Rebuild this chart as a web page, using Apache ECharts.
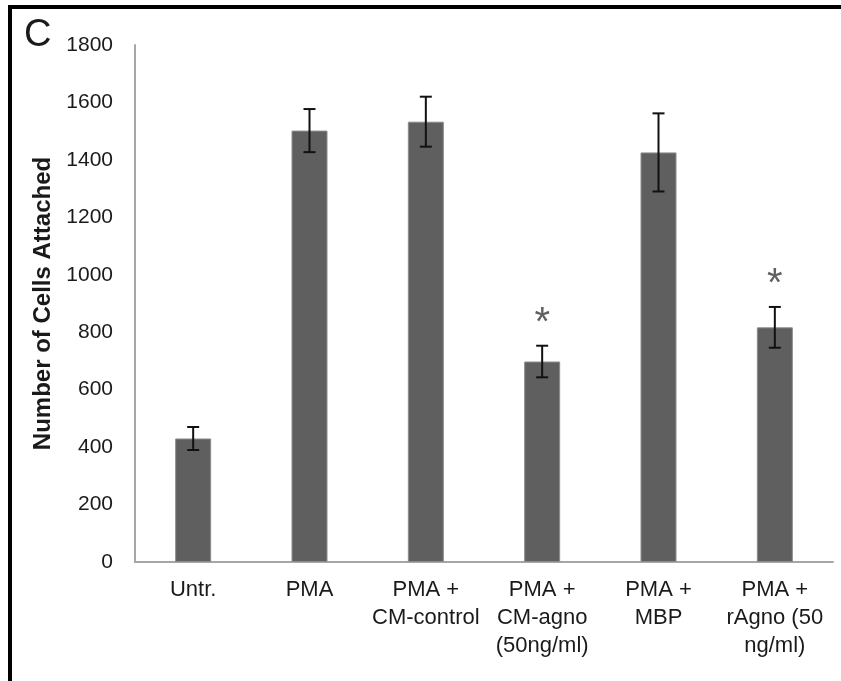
<!DOCTYPE html>
<html>
<head>
<meta charset="utf-8">
<script src="https://cdn.jsdelivr.net/npm/echarts@6/dist/echarts.min.js"></script>
<style>
  html, body { margin: 0; padding: 0; background: #fff; }
  #chart { width: 841px; height: 681px; }
</style>
</head>
<body>
<div id="chart"></div>
<script>
// Cell attachment per treatment: mean and error (±)
const categories = [
  'Untr.',
  'PMA',
  'PMA +\nCM-control',
  'PMA +\nCM-agno\n(50ng/ml)',
  'PMA +\nMBP',
  'PMA +\nrAgno (50\nng/ml)'
];
const means = [430, 1502, 1533, 698, 1426, 817];
const errors = [40, 75, 87, 55, 136, 71];
// significance marks drawn above the error bars
const significant = [false, false, false, true, false, true];
const yTicks = { min: 0, max: 1800, interval: 200 };

const sans = '"Liberation Sans", Arial, sans-serif';

const errData = means.map((m, i) => [i, m - errors[i], m + errors[i]]);
const starData = [];
means.forEach((m, i) => { if (significant[i]) starData.push([i, m + errors[i]]); });

const chart = echarts.init(document.getElementById('chart'), null, { renderer: 'canvas' });
chart.setOption({
  animation: false,
  backgroundColor: '#ffffff',
  grid: { left: 135, right: 8, top: 45, bottom: 119 },
  xAxis: {
    type: 'category',
    data: categories,
    axisLine: { show: true, lineStyle: { color: '#a6a6a6', width: 2 } },
    axisTick: { show: false },
    axisLabel: {
      interval: 0,
      margin: 14,
      color: '#1a1a1a',
      fontFamily: sans,
      fontSize: 22,
      lineHeight: 28
    }
  },
  yAxis: {
    type: 'value',
    min: yTicks.min,
    max: yTicks.max,
    interval: yTicks.interval,
    name: 'Number of Cells Attached',
    nameLocation: 'middle',
    nameGap: 78,
    nameTextStyle: { fontFamily: sans, fontWeight: 'bold', fontSize: 24, color: '#1a1a1a' },
    axisLine: { show: true, lineStyle: { color: '#a6a6a6', width: 2 } },
    axisTick: { show: false },
    splitLine: { show: false },
    axisLabel: {
      margin: 22,
      color: '#1a1a1a',
      fontFamily: sans,
      fontSize: 21,
      formatter: function (v) { return String(v); }
    }
  },
  series: [
    {
      type: 'bar',
      data: means,
      barWidth: 36,
      itemStyle: { color: '#5f5f5f', borderColor: '#8c8c8c', borderWidth: 1 }
    },
    {
      type: 'custom',
      data: errData,
      z: 5,
      renderItem: function (params, api) {
        const x = api.value(0);
        const lo = api.coord([x, api.value(1)]);
        const hi = api.coord([x, api.value(2)]);
        const cap = 6;
        const style = { stroke: '#111', lineWidth: 2 };
        return {
          type: 'group',
          children: [
            { type: 'line', shape: { x1: lo[0], y1: lo[1], x2: hi[0], y2: hi[1] }, style: style },
            { type: 'line', shape: { x1: hi[0] - cap, y1: hi[1], x2: hi[0] + cap, y2: hi[1] }, style: style },
            { type: 'line', shape: { x1: lo[0] - cap, y1: lo[1], x2: lo[0] + cap, y2: lo[1] }, style: style }
          ]
        };
      }
    },
    {
      type: 'scatter',
      data: starData,
      symbolSize: 0,
      z: 6,
      label: {
        show: true,
        position: 'top',
        distance: 2,
        formatter: '*',
        color: '#3a3a3a',
        fontFamily: sans,
        fontSize: 40
      }
    }
  ],
  graphic: [
    { type: 'rect', shape: { x: 8, y: 5, width: 833, height: 4 }, style: { fill: '#000' } },
    { type: 'rect', shape: { x: 8, y: 5, width: 4, height: 676 }, style: { fill: '#000' } },
    { type: 'text', left: 24, top: 17, style: { text: 'C', font: '38px "Liberation Sans", Arial, sans-serif', fill: '#1a1a1a' } }
  ]
});
</script>
</body>
</html>
